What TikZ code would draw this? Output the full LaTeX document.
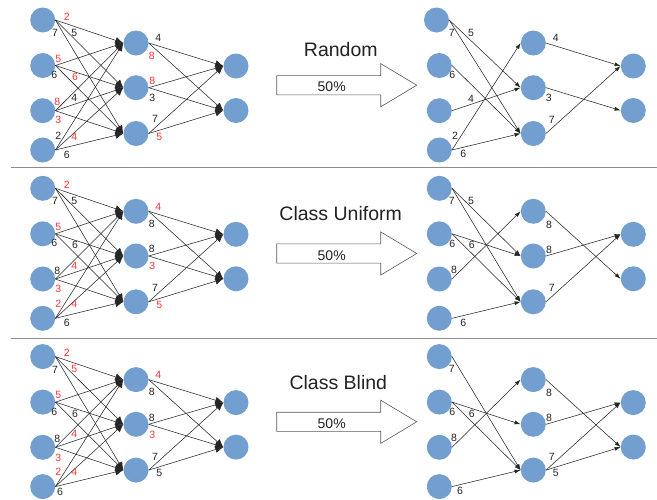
\documentclass[tikz,border=0pt]{standalone}
\usepackage{fontspec}
\setmainfont{Liberation Sans}
\usetikzlibrary{arrows.meta}
\definecolor{nodeblue}{HTML}{729FCF}
\definecolor{wred}{HTML}{FF3333}
\definecolor{ink}{HTML}{222222}
\begin{document}
\begin{tikzpicture}[x=1pt,y=-1pt,
  neuron/.style={circle,fill=nodeblue,minimum size=25pt,inner sep=0pt},
  bigconn/.style={draw=black!85,line width=0.55pt,-{Latex[length=8pt,width=7pt]}},
  smallconn/.style={draw=black!85,line width=0.55pt,-{Latex[length=6pt,width=4pt]}},
  wt/.style={font=\fontsize{10.5}{12}\selectfont,text=ink,inner sep=0pt},
  title/.style={font=\fontsize{19.5}{22}\selectfont,text=ink,inner sep=0pt},
  pct/.style={font=\fontsize{14}{16}\selectfont,text=ink,inner sep=0pt},
  blockarrow/.style={draw=black!65,line width=0.6pt,fill=white},
  sepline/.style={draw=black!45,line width=1.2pt}
]
\useasboundingbox (0,0) rectangle (657,499);
% separators
\coordinate (s1a) at (10.5,167.7); \coordinate (s1b) at (657,167.7);
\coordinate (s2a) at (10.5,338.5); \coordinate (s2b) at (657,338.5);
\draw[sepline] (s1a) -- (s1b);
\draw[sepline] (s2a) -- (s2b);
% nodes
\foreach \p/\d in {1/0,2/168.3,3/336.6}{
  \foreach \y [count=\i] in {20,65.5,110.7,150}{
    \pgfmathsetmacro{\rx}{(\p==1 && \i==1) ? 436.5 : 439.3}
    \node[neuron] (L\p i\i) at (42.7,\y+\d) {};
    \node[neuron] (R\p i\i) at (\rx,\y+\d) {};
  }
  \foreach \y [count=\i] in {43,87.7,133.5}{
    \node[neuron] (L\p h\i) at (136,\y+\d) {};
    \node[neuron] (R\p h\i) at (533.3,\y+\d) {};
  }
  \foreach \y [count=\i] in {66,110.5}{
    \node[neuron] (L\p o\i) at (236,\y+\d) {};
    \node[neuron] (R\p o\i) at (633.3,\y+\d) {};
  }
  % full left network
  \foreach \i in {1,...,4}{\foreach \j in {1,2,3}{
    \draw[bigconn] (L\p i\i.east) -- (L\p h\j.west);}}
  \foreach \j in {1,2,3}{\foreach \k in {1,2}{
    \draw[bigconn] (L\p h\j.east) -- (L\p o\k.west);}}
  % block arrow
  \pgfmathsetmacro{\c}{85.2+\d}
  \draw[blockarrow] (276.7,\c-9.6) -- (380.7,\c-9.6) -- (380.7,\c-21.6) -- (416.7,\c)
     -- (380.7,\c+21.6) -- (380.7,\c+9.6) -- (276.7,\c+9.6) -- cycle;
  \node[pct] (pct\p) at (331.7,\c+1.8) {50\%};
}
% titles
\node[title] (t1) at (340.8,49.3) {Random};
\node[title] (t2) at (340.7,213.9) {Class Uniform};
\node[title] (t3) at (338.3,382.3) {Class Blind};
% right network connections
\foreach \a/\b in {i1/h2,i1/h3,i2/h3,i3/h2,i4/h1,i4/h3,h1/o1,h2/o2,h3/o1}
  \draw[smallconn] (R1\a.east) -- (R1\b.west);
\foreach \a/\b in {i1/h2,i1/h3,i2/h2,i2/h3,i3/h1,i4/h3,h1/o2,h2/o1,h3/o1}
  \draw[smallconn] (R2\a.east) -- (R2\b.west);
\foreach \a/\b in {i1/h3,i2/h2,i2/h3,i3/h1,i4/h3,h1/o2,h2/o1,h3/o1,h3/o2}
  \draw[smallconn] (R3\a.east) -- (R3\b.west);
% weight labels, panel 1
\foreach \x/\y/\t/\c [count=\n] in {
  66.7/16.7/2/wred, 55/33.3/7/ink, 74.3/33.3/5/ink,
  58.3/59.3/5/wred, 54.3/75/6/ink, 75/77.3/6/wred,
  57.3/102.3/8/wred, 74.3/97.7/4/ink, 58.3/120/3/wred,
  58.3/136/2/ink, 74.3/136.7/4/wred, 66.7/155/6/ink,
  158.3/38.3/4/ink, 151.7/56/8/wred, 152.3/81/8/wred,
  152.3/98.3/3/ink, 155/119.3/7/ink, 159.3/136.7/5/wred,
  451.7/33.3/7/ink, 471/33.3/5/ink, 452.3/75/6/ink, 471/99/4/ink,
  455/136/2/ink, 463.3/154.3/6/ink, 555.7/37.7/4/ink, 548.7/98.3/3/ink,
  551.7/120/7/ink}
  \node[wt,text=\c] (wa\n) at (\x,\y) {\t};
% weight labels, panel 2
\foreach \x/\y/\t/\c [count=\n] in {
  66.7/185/2/wred, 55/201/7/ink, 74.3/201/5/ink,
  58.3/226.7/5/wred, 54.3/243.3/6/ink, 75/245/6/ink,
  57.3/271/8/ink, 74.3/266/4/wred, 58.3/289/3/wred,
  58.3/304.3/2/wred, 74.3/304.3/4/wred, 66.7/323.3/6/ink,
  158.3/206.7/4/wred, 151.7/224/8/ink, 151.7/249/8/ink,
  152.3/266/3/wred, 155/288.3/7/ink, 159.3/305/5/wred,
  451.7/201/7/ink, 471/201/5/ink, 452.3/244/6/ink, 471.7/245/6/ink,
  454/270/8/ink, 463.3/323.3/6/ink, 549/225/8/ink, 549/250/8/ink,
  551.7/288.3/7/ink}
  \node[wt,text=\c] (wb\n) at (\x,\y) {\t};
% weight labels, panel 3
\foreach \x/\y/\t/\c [count=\n] in {
  66.7/353.3/2/wred, 55/370/7/ink, 74.3/369.3/5/wred,
  58.3/395/5/wred, 54.3/412.3/6/ink, 75/414/6/ink,
  57.3/439/8/ink, 74.3/434.3/4/wred, 58.3/457.7/3/wred,
  58.3/472.3/2/wred, 74.3/472.3/4/wred, 60/491.7/6/ink,
  158.3/375/4/wred, 151.7/392.3/8/ink, 151.7/417.7/8/ink,
  152.3/435/3/wred, 155/456.7/7/ink, 159.3/473.3/5/ink,
  451.7/369.3/7/ink, 452.3/411.7/6/ink, 471.7/414/6/ink,
  454/438.3/8/ink, 460/491/6/ink, 549/393.3/8/ink, 549/418.3/8/ink,
  551.7/456.7/7/ink, 555.7/473.3/5/ink}
  \node[wt,text=\c] (wc\n) at (\x,\y) {\t};
\end{tikzpicture}
\end{document}
